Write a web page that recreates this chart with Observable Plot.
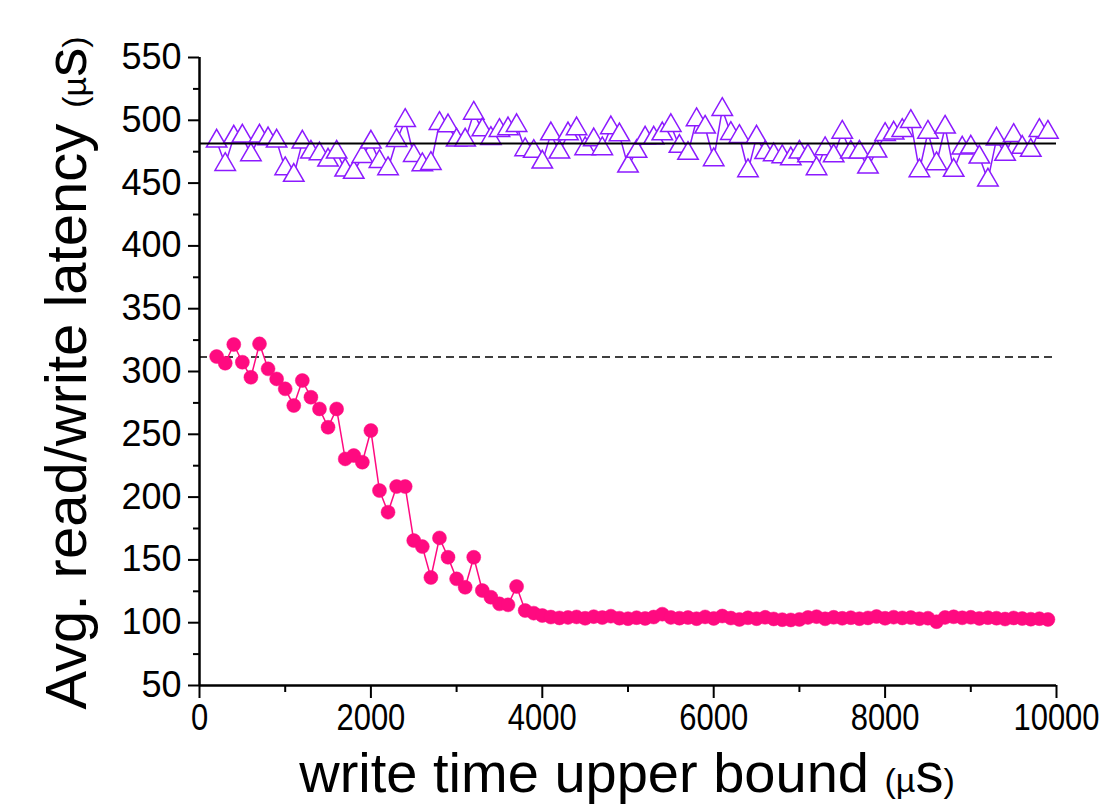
<!DOCTYPE html>
<html><head><meta charset="utf-8">
<script src="https://cdn.jsdelivr.net/npm/d3@7"></script>
<script src="https://cdn.jsdelivr.net/npm/@observablehq/plot@0.6"></script>
<style>body{margin:0;background:#fff;}</style>
</head><body><div id="chart"></div>
<script>
// write time upper bound (µs)
const writeBound = [200,300,400,500,600,700,800,900,1000,1100,1200,1300,1400,1500,1600,1700,1800,1900,2000,2100,2200,2300,2400,2500,2600,2700,2800,2900,3000,3100,3200,3300,3400,3500,3600,3700,3800,3900,4000,4100,4200,4300,4400,4500,4600,4700,4800,4900,5000,5100,5200,5300,5400,5500,5600,5700,5800,5900,6000,6100,6200,6300,6400,6500,6600,6700,6800,6900,7000,7100,7200,7300,7400,7500,7600,7700,7800,7900,8000,8100,8200,8300,8400,8500,8600,8700,8800,8900,9000,9100,9200,9300,9400,9500,9600,9700,9800,9900];
// purple hollow triangles
const seriesTriangle = [483.4,464.8,486.6,487.4,472.5,487.4,485.2,483.4,461.4,456.1,482.6,474.6,473.3,468.3,474.6,460.3,458.5,471.2,482.6,467.2,461.4,483.9,499.8,472.0,464.6,465.6,497.4,495.6,484.2,484.2,505.6,492.4,485.5,491.9,493.2,495.8,476.5,475.2,466.7,489.2,474.6,489.2,493.2,477.3,484.4,477.3,494.0,488.4,463.5,475.2,485.8,485.8,489.2,495.8,479.2,473.6,500.4,494.5,468.6,508.6,489.5,487.1,459.8,486.6,474.2,472.5,471.0,469.3,474.6,471.7,461.4,477.3,471.7,490.5,474.6,474.6,462.7,475.4,488.7,489.8,491.9,499.0,459.8,490.5,465.4,494.5,460.1,477.8,478.6,470.7,452.4,485.0,472.8,487.9,478.4,476.0,491.9,490.5];
// pink filled circles
const seriesCircle = [311.9,306.6,321.5,307.4,295.4,322.0,302.1,294.1,286.2,272.9,292.8,279.5,270.2,255.6,270.2,230.4,233.1,227.8,253.0,205.2,188.0,208.4,208.4,165.4,160.6,136.0,167.5,152.1,134.9,128.2,152.1,125.6,120.3,115.0,114.2,128.8,109.7,107.6,105.7,104.5,103.8,104.2,104.6,103.5,104.8,104.1,105.2,103.6,103.2,104.0,103.4,104.5,106.8,104.2,103.6,104.1,103.2,104.6,103.4,105.3,103.7,102.6,103.9,103.2,104.3,103.0,102.4,102.2,102.6,104.2,104.8,103.1,104.3,103.5,104.0,103.2,103.8,104.9,103.5,104.4,103.8,104.1,103.2,103.6,100.8,104.2,104.7,103.9,104.3,103.4,104.0,103.6,102.9,103.8,103.3,102.8,103.2,102.6];
const refSolid = [481.5];
const refDashed = [311.5];
const yMajorTicks = [50,100,150,200,250,300,350,400,450,500,550];
const yMinorTicks = [75,125,175,225,275,325,375,425,475,525];
const xMajorTicks = [0,2000,4000,6000,8000,10000];
const xMinorTicks = [1000,3000,5000,7000,9000];

const triRows = writeBound.map((x, i) => ({x, y: seriesTriangle[i]}));
const cirRows = writeBound.map((x, i) => ({x, y: seriesCircle[i]}));

const pink = "#ff0a80";
const violet = "#8c1aff";

const chart = Plot.plot({
  width: 1103, height: 809,
  marginLeft: 199, marginRight: 47, marginTop: 57, marginBottom: 124,
  x: {domain: [0, 10000], label: null},
  y: {domain: [50, 550], label: null},
  style: {fontFamily: "'Liberation Sans', Arial, sans-serif", fontSize: "36px", color: "#000", background: "#fff"},
  marks: [
    Plot.axisY({ticks: yMinorTicks, tickSize: 6, tickFormat: () => "", strokeWidth: 2, label: null}),
    Plot.axisY({ticks: yMajorTicks, tickSize: 11, tickPadding: 7, strokeWidth: 2, fontSize: 36, tickFormat: d => String(d), label: null}),
    Plot.axisX({ticks: xMinorTicks, tickSize: 7, tickFormat: () => "", strokeWidth: 2, label: null}),
    Plot.axisX({ticks: xMajorTicks, tickSize: 13, tickPadding: 6, strokeWidth: 2, fontSize: 36, tickFormat: d => String(d), label: null}),
    Plot.ruleY(refDashed, {stroke: "#000", strokeWidth: 1.5, strokeDasharray: "8,5"}),
    Plot.line(cirRows, {x: "x", y: "y", stroke: pink, strokeWidth: 1.5}),
    Plot.dot(cirRows, {x: "x", y: "y", r: 7, fill: pink, stroke: pink, strokeWidth: 0.5}),
    Plot.line(triRows, {x: "x", y: "y", stroke: violet, strokeWidth: 1.5}),
    Plot.dot(triRows, {x: "x", y: "y", symbol: "triangle", r: 7.6, fill: "#fff", stroke: violet, strokeWidth: 1.5}),
    Plot.ruleY(refSolid, {stroke: "#000", strokeWidth: 2}),
    Plot.ruleX([0], {stroke: "#000", strokeWidth: 2.5}),
    Plot.ruleY([50], {stroke: "#000", strokeWidth: 2.5})
  ]
});
document.getElementById("chart").appendChild(chart);

const svg = d3.select(chart);
// condense x tick labels like the original
svg.selectAll('g[aria-label="x-axis tick label"] text').each(function () {
  const w = this.getComputedTextLength();
  if (w > 0) d3.select(this).attr("textLength", w * 0.86).attr("lengthAdjust", "spacingAndGlyphs");
});

const font = "'Liberation Sans', Arial, sans-serif";
// y-axis title
const yt = svg.append("text")
  .attr("transform", "translate(86,373) rotate(-90)")
  .attr("text-anchor", "middle")
  .attr("font-family", font)
  .attr("font-size", 58)
  .attr("fill", "#000");
yt.append("tspan").text("Avg. read/write latency ");
yt.append("tspan").attr("font-size", 34).text("(µ");
yt.append("tspan").text("s");
yt.append("tspan").attr("font-size", 34).text(")");

// x-axis title
const xt = svg.append("text")
  .attr("x", 627).attr("y", 792)
  .attr("text-anchor", "middle")
  .attr("font-family", font)
  .attr("font-size", 56)
  .attr("fill", "#000");
xt.append("tspan").text("write time upper bound ");
xt.append("tspan").attr("font-size", 34).text("(µ");
xt.append("tspan").text("s");
xt.append("tspan").attr("font-size", 34).text(")");
</script>
</body></html>
